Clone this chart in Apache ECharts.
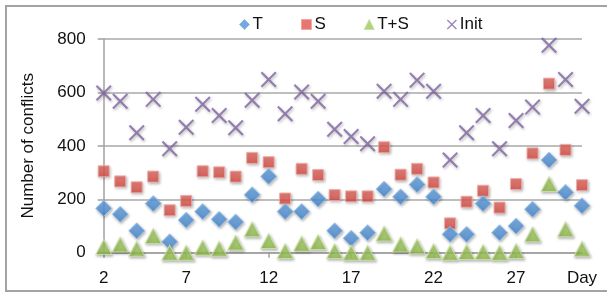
<!DOCTYPE html>
<html><head><meta charset="utf-8">
<script src="https://cdn.jsdelivr.net/npm/echarts@6/dist/echarts.min.js"></script>
<style>html,body{margin:0;padding:0;background:#fff}#c{width:607px;height:293px}</style>
</head><body><div id="c"></div>
<script>
const days = ['2','3','4','5','6','7','8','9','10','11','12','13','14','15','16','17','18','19','20','21','22','23','24','25','26','27','28','29','30','31'];
const seriesT    = [166,144,82,184,41,122,154,125,115,217,286,154,154,201,82,54,75,238,209,255,209,69,69,184,75,100,163,347,226,176];
const seriesS    = [305,267,245,285,159,194,305,301,285,355,339,203,314,291,216,211,211,395,292,314,263,110,191,232,169,257,372,633,385,253];
const seriesTS   = [21,31,15,63,0,0,19,15,38,88,44,6,34,40,6,0,0,72,31,24,6,0,3,3,0,6,69,257,88,15];
const seriesInit = [598,567,449,574,389,470,556,514,468,571,648,520,602,567,462,435,408,604,574,646,604,347,449,514,389,495,545,777,648,548];
const yTicks = [0,200,400,600,800];
const lastLabel = 'Day';

const crossPath = 'path://M0,1.3L1.3,0L7,5.7L12.7,0L14,1.3L8.3,7L14,12.7L12.7,14L7,8.3L1.3,14L0,12.7L5.7,7Z';
const font = 'Liberation Sans, Arial, sans-serif';
function grad(top, bottom){
  return new echarts.graphic.LinearGradient(0,0,0,1,[{offset:0,color:top},{offset:1,color:bottom}]);
}
const shadow = {shadowBlur:3, shadowColor:'rgba(0,0,0,0.35)', shadowOffsetX:1, shadowOffsetY:1.5};

const chart = echarts.init(document.getElementById('c'), null, {renderer:'canvas'});
const showIdx = (i) => i % 5 === 0 || i === days.length - 1;
chart.setOption({
  animation:false,
  textStyle:{fontFamily:font},
  graphic:[{type:'rect', shape:{x:6,y:6,width:620,height:285}, style:{fill:'none', stroke:'#a3a3a3', lineWidth:2}, z:-1}],
  legend:{
    top:11, left:234, itemGap:38, itemWidth:10, itemHeight:10,
    textStyle:{fontSize:17, color:'#111', fontFamily:font, padding:[0,0,0,-2]},
    data:[
      {name:'T', icon:'diamond', itemStyle:{color:'#4f94d8', borderColor:'#86b6e8', borderWidth:1}},
      {name:'S', icon:'rect', itemStyle:{color:'#e0544c', borderColor:'#f0a09a', borderWidth:1}},
      {name:'T+S', icon:'triangle', itemStyle:{color:'#9dc85a', borderColor:'#c4de98', borderWidth:1}},
      {name:'Init', icon:crossPath, itemStyle:{color:'#8064a2'}}
    ]
  },
  grid:{left:103.7, right:25, top:39, bottom:40.3},
  xAxis:{
    type:'category', data:days, boundaryGap:false,
    axisLine:{lineStyle:{color:'#a0a0a0', width:1.5}},
    axisTick:{show:true, interval:(i)=>i%5===0, length:5, lineStyle:{color:'#a0a0a0', width:1.5}},
    axisLabel:{interval:(i)=>showIdx(i), fontSize:17, color:'#111', margin:17, fontFamily:font,
      formatter:(v,i)=> i === days.length-1 ? lastLabel : v},
    splitLine:{show:false}
  },
  yAxis:{
    type:'value', min:yTicks[0], max:yTicks[yTicks.length-1], interval:200,
    name:'Number of conflicts', nameLocation:'middle', nameGap:67, nameRotate:90,
    nameTextStyle:{fontSize:17, color:'#111', fontFamily:font},
    axisLine:{show:true, lineStyle:{color:'#a0a0a0', width:1.5}},
    axisTick:{show:true, length:6, lineStyle:{color:'#a0a0a0', width:1.5}},
    axisLabel:{fontSize:17, color:'#111', margin:18, fontFamily:font},
    splitLine:{lineStyle:{color:'#a8a8a8', width:1.5}}
  },
  series:[
    {name:'T', type:'scatter', symbol:'diamond', symbolSize:[16,16], data:seriesT, z:4,
      itemStyle:Object.assign({color:grad('#6aa8e6','#3f82cc'), borderColor:'#9cc5ef', borderWidth:1}, shadow)},
    {name:'S', type:'scatter', symbol:'rect', symbolSize:[11,11], data:seriesS, z:3,
      itemStyle:Object.assign({color:grad('#ea6d64','#d6463f'), borderColor:'#f4aaa5', borderWidth:1}, shadow)},
    {name:'T+S', type:'scatter', symbol:'triangle', symbolSize:[16,15], data:seriesTS, z:5,
      itemStyle:Object.assign({color:grad('#b3d876','#8fbd49'), borderColor:'#cfe6a8', borderWidth:1}, shadow)},
    {name:'Init', type:'scatter', symbol:crossPath, symbolSize:[16,16], data:seriesInit, z:2,
      itemStyle:Object.assign({color:'#8064a2'}, shadow)}
  ]
});
</script></body></html>
